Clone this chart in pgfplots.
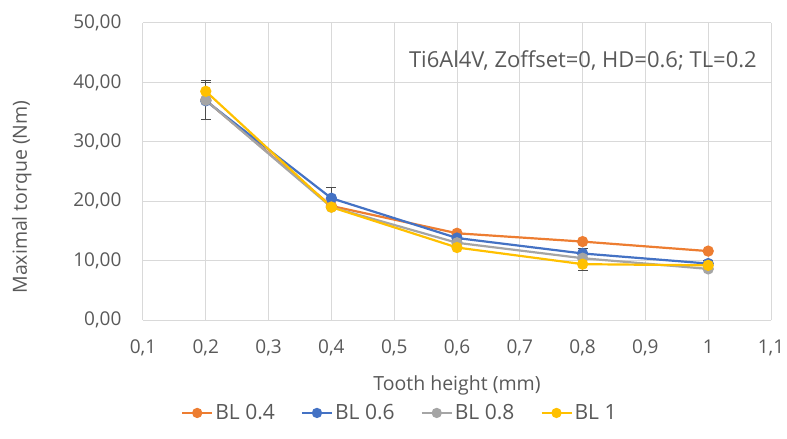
\documentclass[border=0pt]{standalone}
\usepackage{pgfplots}
\pgfplotsset{compat=1.18}
\usepackage{fontspec}
\setmainfont{Open Sans}
\definecolor{cOrange}{HTML}{ED7D31}
\definecolor{cBlue}{HTML}{4472C4}
\definecolor{cGray}{HTML}{A5A5A5}
\definecolor{cYellow}{HTML}{FFC000}
\definecolor{txt}{HTML}{595959}
\definecolor{grd}{HTML}{D9D9D9}
\begin{document}
\begin{tikzpicture}[x=1pt,y=1pt]
\useasboundingbox (-143,-119) rectangle (644,320);
\begin{axis}[
  at={(0,0)}, anchor=south west,
  scale only axis,
  width=628pt, height=297pt,
  xmin=0.1, xmax=1.1, ymin=0, ymax=50,
  xtick={0.1,0.2,...,1.1},
  ytick={0,10,...,50},
  axis line style={draw=none},
  tick style={draw=none},
  ymajorgrids, xmajorgrids,
  grid style={grd, line width=1pt},
  tick label style={text=txt, font=\fontsize{19}{22}\selectfont},
  /pgf/number format/assume math mode=true,
  yticklabel style={xshift=-18pt, /pgf/number format/.cd, fixed, fixed zerofill, precision=2, use comma},
  xticklabel style={yshift=-16pt, /pgf/number format/.cd, fixed, precision=1, use comma},
  xlabel={Tooth height (mm)}, ylabel={Maximal torque (Nm)},
  label style={text=txt, font=\fontsize{19.5}{22}\selectfont},
  xlabel style={at={(axis description cs:0.5,-0.219)}, anchor=center},
  ylabel style={at={(axis description cs:-0.193,0.414)}, anchor=center},
  legend columns=4,
  legend style={at={(axis description cs:0.409,-0.313)}, anchor=center,
    draw=none, fill=none, text=txt, font=\fontsize{21}{24}\selectfont,
    /tikz/every even column/.append style={column sep=24pt}},
  legend image code/.code={\draw[#1] (0pt,0pt) -- (30pt,0pt);
    \fill[#1] (15pt,0pt) circle (4pt);},
  every axis plot/.append style={line width=2.2pt, mark=*, mark size=4.5pt},
  error bars/error bar style={draw=black!70, line width=1pt},
  error bars/error mark options={draw=black!70, line width=1pt, rotate=90, mark size=5pt},
  clip=false,
]
\addplot[cOrange, mark options={fill=cOrange, draw=cOrange}] coordinates {
  (0.2,37.0) (0.4,19.2) (0.6,14.6) (0.8,13.2) (1.0,11.6)};
\addlegendentry{BL 0.4}
\addplot[cBlue, mark options={fill=cBlue, draw=cBlue},
  error bars/.cd, y dir=both, y explicit] coordinates {
  (0.2,36.9) +- (0,3.1)
  (0.4,20.5) +- (0,1.8)
  (0.6,13.8) +- (0,0.6)
  (0.8,11.2) +- (0,0.8)
  (1.0,9.5) +- (0,0.6)};
\addlegendentry{BL 0.6}
\addplot[cGray, mark options={fill=cGray, draw=cGray},
  error bars/.cd, y dir=both, y explicit] coordinates {
  (0.2,37.0) +- (0,0.0)
  (0.4,19.0) +- (0,0.0)
  (0.6,13.0) +- (0,0.0)
  (0.8,10.4) +- (0,1.0)
  (1.0,8.6) +- (0,0.0)};
\addlegendentry{BL 0.8}
\addplot[cYellow, mark options={fill=cYellow, draw=cYellow},
  error bars/.cd, y dir=both, y explicit] coordinates {
  (0.2,38.5) +- (0,1.8)
  (0.4,19.0) +- (0,0.0)
  (0.6,12.2) +- (0,0.0)
  (0.8,9.4) +- (0,1.0)
  (1.0,9.2) +- (0,0.0)};
\addlegendentry{BL 1}
\node[anchor=east, text=txt, font=\fontsize{22}{24}\selectfont]
  at (axis description cs:0.983,0.875) {Ti6Al4V, Zoffset=0, HD=0.6; TL=0.2};
\end{axis}
\end{tikzpicture}
\end{document}
